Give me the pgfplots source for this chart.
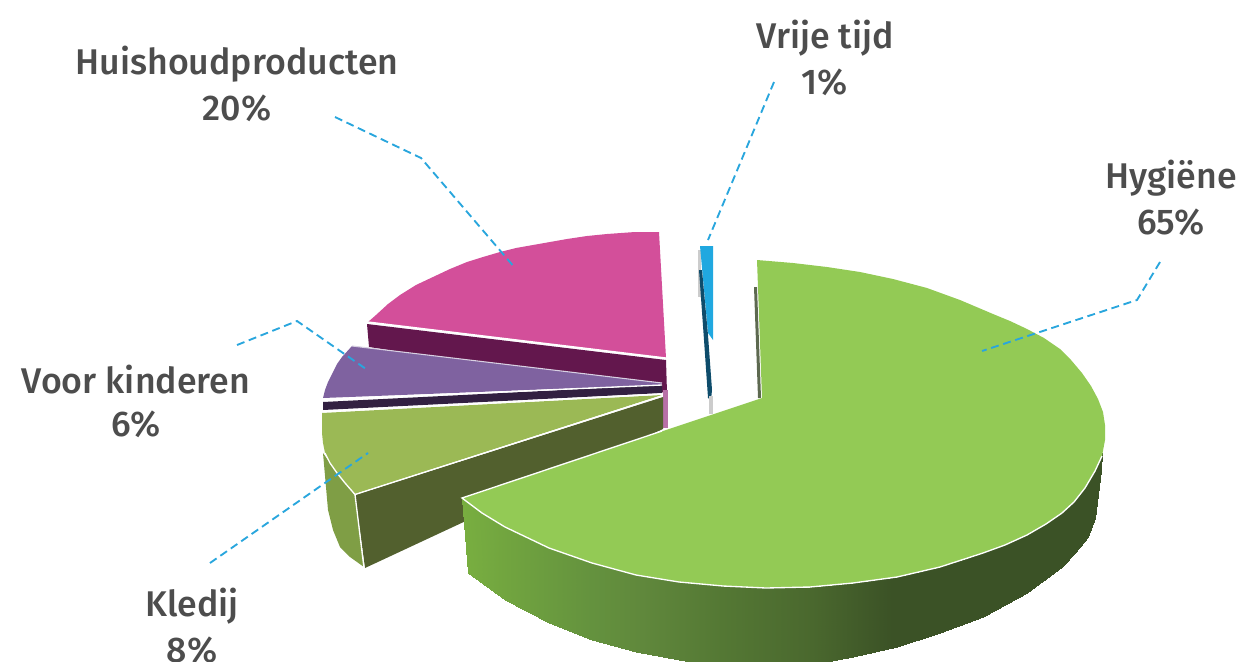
\documentclass[border=0pt]{standalone}
\usepackage{pgfplots}
\pgfplotsset{compat=1.18}
\usepackage{fontspec}
\setmainfont{Fira Sans}[UprightFont=* Medium]
\definecolor{gtop}{HTML}{93CA55}
\definecolor{ptop}{HTML}{D34F9A}
\definecolor{pside}{HTML}{63174D}
\definecolor{pthin}{HTML}{B870A8}
\definecolor{vtop}{HTML}{7F62A0}
\definecolor{vside}{HTML}{322041}
\definecolor{otop}{HTML}{9BB955}
\definecolor{oside}{HTML}{52602E}
\definecolor{oout}{HTML}{7F9E45}
\definecolor{blue}{HTML}{20A8E0}
\definecolor{teal}{HTML}{0E4C6B}
\definecolor{lead}{HTML}{29A6DD}
\definecolor{txt}{HTML}{4D4D4D}
\pgfplotsset{leader/.style={lead,line width=1.4pt,dash pattern=on 6pt off 3.5pt}}
\begin{document}
\begin{tikzpicture}
\path[use as bounding box] (0,0) rectangle (933.75pt,495.75pt);
\clip (0,0) rectangle (933.75pt,495.75pt);
\begin{axis}[at={(0,0)},anchor=south west,scale only axis,width=933.75pt,height=495.75pt,
  xmin=0,xmax=1245,ymin=0,ymax=661,y dir=reverse,hide axis,no markers,clip=true,
  colormap={side}{rgb255(0pt)=(120,174,64); rgb255(130pt)=(100,146,62); rgb255(180pt)=(96,136,60); rgb255(260pt)=(84,120,52); rgb255(350pt)=(74,104,46); rgb255(430pt)=(59,82,38); rgb255(640pt)=(59,82,38)},
  point meta min=462,point meta max=1102]
% pink side and top
\addplot[fill=pside,draw=none] coordinates {(367,324)(666,360)(667,393)(369,347)} --cycle;
\addplot[fill=ptop,draw=none] coordinates {(659,232)(666,358)(368,322)(376,315)(388,304)(400,295)(416,285)(433,277)(450,269)(467,262)(483,257)(500,252)(516,248)(533,245)(550,242)(567,239)(587,236)(607,234)(635,232)} --cycle;
\addplot[white,line width=1pt] coordinates {(368,322)(666,358)};
\addplot[fill=pthin,draw=none] coordinates {(663,390)(668,390)(668,428)(663,428)} --cycle;
% purple side and top
\addplot[fill=vside,draw=none] coordinates {(323,402)(662,385)(662,393)(323,410)} --cycle;
\addplot[fill=vtop,draw=none] coordinates {(352,346)(662,383)(660,385)(323,398)(325,390)(328,382)(333,372)(337,364)(342,357)} --cycle;
\addplot[white,line width=1pt] coordinates {(323,399.5)(662,385)};
\addplot[white!70!vtop,line width=0.8pt] coordinates {(352,346)(662,383)};
% olive
\addplot[fill=oout,draw=none] coordinates {(323,453)(337,473)(355,495)(364,567)(350,557)(340,547)(333,530)(328,510)} --cycle;
\addplot[fill=oside,draw=none] coordinates {(355,495)(663,397)(663,429)(365,568)} --cycle;
\addplot[fill=otop,draw=none] coordinates {(322,413)(662,395)(355,494)(345,483)(337,473)(330,463)(325,453)(323,443)(322,433)} --cycle;
\addplot[white,line width=1pt] coordinates {(323,411.5)(662,394)};
\addplot[white,line width=1pt] coordinates {(662,396)(355,494.5)(345,483)(337,473)(330,463)(325,453)};
\addplot[white,line width=1pt] coordinates {(355,494.5)(364,568)};
% slivers of the thin slice
\addplot[fill=gray!40,draw=none] coordinates {(698,250)(701,250)(701,297)(698,297)} --cycle;
\addplot[fill=blue,draw=none] coordinates {(700,246)(713,246)(713,340)(708,333)} --cycle;
\addplot[fill=teal,draw=none] coordinates {(699,270)(702,270)(708,335)(712,390)(711,400)(708,398)(704,340)} --cycle;
\addplot[fill=gray!40,draw=none] coordinates {(709,396)(713,396)(713,414)(709,414)} --cycle;
\addplot[fill=gray!70!gtop!70!black,draw=none] coordinates {(754,287)(757,287)(761,398)(758,398)} --cycle;
% green side
\addplot[surf,shader=interp,mesh/rows=2,point meta=\thisrow{c}] table {
x y c
462 498 462
505 527 505
549 548 549
592 563 592
636 575 636
679 582 679
723 586 723
766 588 766
810 587 810
853 583 853
897 577 897
940 567 940
983 553 983
1027 535 1027
1062 512 1062
1075 497 1075
1088 483 1088
1095 470 1095
1102 453 1102
468 573 462
505 600 505
549 623 549
592 640 592
636 652 636
679 660 679
723 668 723
766 670 766
810 665 810
853 657 853
897 647 897
940 633 940
983 617 983
1027 593 1027
1062 567 1062
1075 553 1075
1088 537 1088
1095 518 1095
1101 470 1102
};
% green top
\addplot[fill=gtop,draw=none] coordinates {(757,260)(793,263)(827,267)(860,272)(893,279)(927,288)(960,300)(993,314)(1010,321)(1027,329)(1044,338)(1060,349)(1071,360)(1082,373)(1091,386)(1098,399)(1103,412)(1105,425)(1105,440)(1102,456)(1095,471)(1085,488)(1074,502)(1062,513)(1046,524)(1027,535)(1005,545)(983,553)(940,567)(897,577)(853,583)(810,587)(766,588)(723,586)(679,582)(636,575)(592,563)(549,548)(505,527)(482,513)(462,498)(762,398)} --cycle;
\addplot[white,line width=1pt] coordinates {(1102,456)(1095,471)(1085,488)(1074,502)(1062,513)(1046,524)(1027,535)(1005,545)(983,553)(940,567)(897,577)(853,583)(810,587)(766,588)(723,586)(679,582)(636,575)(592,563)(549,548)(505,527)(482,513)(462,498)(662,431)};
% leader lines
\addplot[leader] coordinates {(1160,262)(1137,300)(982,351)};
\addplot[leader] coordinates {(774,82)(708,240)};
\addplot[leader] coordinates {(335,117)(421,158)(515,268)};
\addplot[leader] coordinates {(237,345)(297,321)(366,369)};
\addplot[leader] coordinates {(210,563)(368,453)};
\end{axis}
\begin{scope}[every node/.style={text=txt,font=\fontsize{26.8}{30}\selectfont,anchor=center,inner sep=0pt}]
\node at (237*0.75pt,{(661-64)*0.75pt}) {Huishoudproducten};
\node at (237*0.75pt,{(661-108)*0.75pt}) {20\%};
\node at (825*0.75pt,{(661-38)*0.75pt}) {Vrije tijd};
\node at (825*0.75pt,{(661-82)*0.75pt}) {1\%};
\node at (1171*0.75pt,{(661-178)*0.75pt}) {Hygiëne};
\node at (1171*0.75pt,{(661-222)*0.75pt}) {65\%};
\node at (136*0.75pt,{(661-380)*0.75pt}) {Voor kinderen};
\node at (136*0.75pt,{(661-424)*0.75pt}) {6\%};
\node at (192*0.75pt,{(661-606)*0.75pt}) {Kledij};
\node at (192*0.75pt,{(661-650)*0.75pt}) {8\%};
\end{scope}
\end{tikzpicture}
\end{document}
